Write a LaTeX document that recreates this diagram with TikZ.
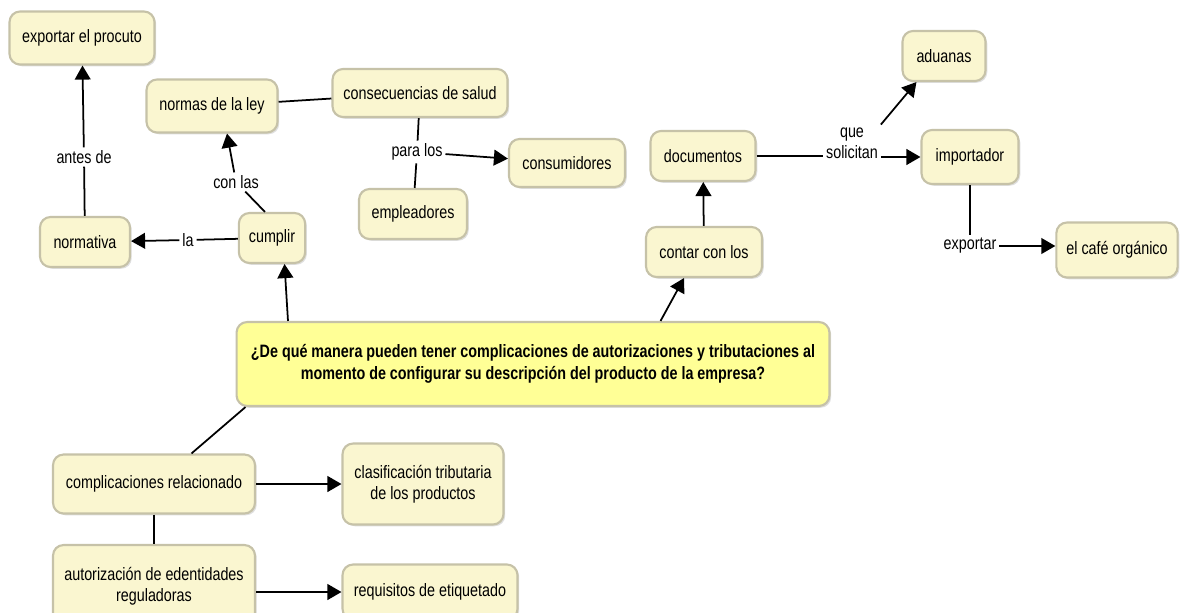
\documentclass[tikz,border=0pt]{standalone}
\usepackage{fontspec}
\setmainfont{Liberation Sans}[FakeStretch=0.8]
\usetikzlibrary{positioning, arrows.meta, shadows}

\definecolor{conceptfill}{RGB}{250,246,208}
\definecolor{conceptline}{RGB}{198,194,168}
\definecolor{questionfill}{RGB}{255,255,150}

\tikzset{
  concept/.style={draw=conceptline, line width=1.2pt, fill=conceptfill, rounded corners=6pt,
    minimum height=1cm, inner xsep=0.2cm, align=center, font=\fontsize{10.2}{12}\selectfont,
    drop shadow={opacity=0.25, shadow xshift=1pt, shadow yshift=-1pt}},
  question/.style={concept, fill=questionfill, font=\bfseries\fontsize{10.2}{12.6}\selectfont},
  linkword/.style={fill=white, inner sep=1.5pt, align=center, font=\fontsize{10.2}{12}\selectfont},
  conn/.style={line width=1pt},
  arr/.style={line width=1pt, -{Triangle[length=8pt,width=9pt]}},
}

\begin{document}
\begin{tikzpicture}[x=0.02cm, y=-0.02cm]
    \useasboundingbox[fill=white] (0,0) rectangle (1180,612);

    % Concepts
    \node[concept, minimum width=2.9cm, minimum height=1.06cm] (expo) at (82,38) {exportar el procuto};
    \node[concept, minimum width=2.62cm, minimum height=1.06cm] (normas) at (212,106) {normas de la ley};
    \node[concept, minimum width=3.5cm, minimum height=0.96cm] (consec) at (420,93) {consecuencias de salud};
    \node[concept, minimum width=2.32cm, minimum height=0.96cm] (consum) at (567,163) {consumidores};
    \node[concept, minimum width=2.16cm] (emple) at (413,214) {empleadores};
    \node[concept, minimum width=1.8cm] (normativa) at (85,242) {normativa};
    \node[concept, minimum width=1.2cm] (cumplir) at (272,238) {cumplir};
    \node[concept, minimum width=2.1cm] (docs) at (703,156) {documentos};
    \node[concept, minimum width=2.32cm] (contar) at (704,252) {contar con los};
    \node[concept, minimum width=1.66cm] (aduanas) at (944,56) {aduanas};
    \node[concept, minimum width=1.94cm, minimum height=1.08cm] (importador) at (970,157) {importador};
    \node[concept, minimum width=2.34cm, minimum height=1.1cm] (cafe) at (1117,250) {el café orgánico};

    % Main question
    \node[question, minimum width=11.86cm, minimum height=1.68cm] (pregunta) at (533,364)
        {¿De qué manera pueden tener complicaciones de autorizaciones y tributaciones al\\
         momento de configurar su descripción del producto de la empresa?};

    \node[concept, minimum width=4.04cm, minimum height=1.18cm] (compl) at (154,484) {complicaciones relacionado};
    \node[concept, minimum width=3.22cm, minimum height=1.62cm] (clasif) at (423,484) {clasificación tributaria\\de los productos};
    \node[concept, minimum width=4.04cm, minimum height=1.64cm] (autor) at (154,586) {autorización de edentidades\\reguladoras};
    \node[concept, minimum width=3.5cm, minimum height=1.1cm] (requis) at (430,592) {requisitos de etiquetado};

    % Linking phrases
    \node[linkword] (antesde) at (84,157) {antes de};
    \node[linkword] (la) at (188,240) {la};
    \node[linkword] (conlas) at (236,182) {con las};
    \node[linkword] (paralos) at (417,152) {para los};
    \node[linkword] (quesol) at (852,143) {que\\solicitan};
    \node[linkword] (exportar) at (970,246) {exportar};

    % Connections
    \draw[conn] (normativa) -- (antesde);
    \draw[arr] (antesde) -- (expo);
    \draw[conn] (cumplir) -- (la);
    \draw[arr] (la) -- (normativa);
    \draw[conn] ([xshift=-0.14cm]cumplir.north) -- (conlas);
    \draw[arr] (conlas) -- ([xshift=0.3cm]normas.south);
    \draw[conn] (normas) -- (consec);
    \draw[conn] (consec) -- (paralos);
    \draw[conn] (paralos) -- (emple);
    \draw[arr] (paralos) -- (consum);
    \draw[arr] ([xshift=1.05cm]pregunta.north west) -- ([xshift=0.25cm]cumplir.south);
    \draw[arr] ([xshift=-3.4cm]pregunta.north east) -- ([xshift=-0.4cm]contar.south);
    \draw[arr] (contar) -- (docs);
    \draw[conn] (docs.east) -- (docs.east -| quesol.west);
    \draw[arr] (quesol.east |- importador.west) -- (importador.west);
    \draw[arr] (quesol.north east) -- ([xshift=0.3cm]aduanas.south west);
    \draw[conn] (importador) -- (exportar);
    \draw[arr] (exportar.east) -- (exportar.east -| cafe.west);
    \draw[conn] ([xshift=0.2cm]pregunta.south west) -- ([xshift=0.75cm]compl.north);
    \draw[arr] (compl) -- (clasif);
    \draw[conn] (compl) -- (autor);
    \draw[arr] (autor.east |- requis.west) -- (requis.west);
\end{tikzpicture}
\end{document}
